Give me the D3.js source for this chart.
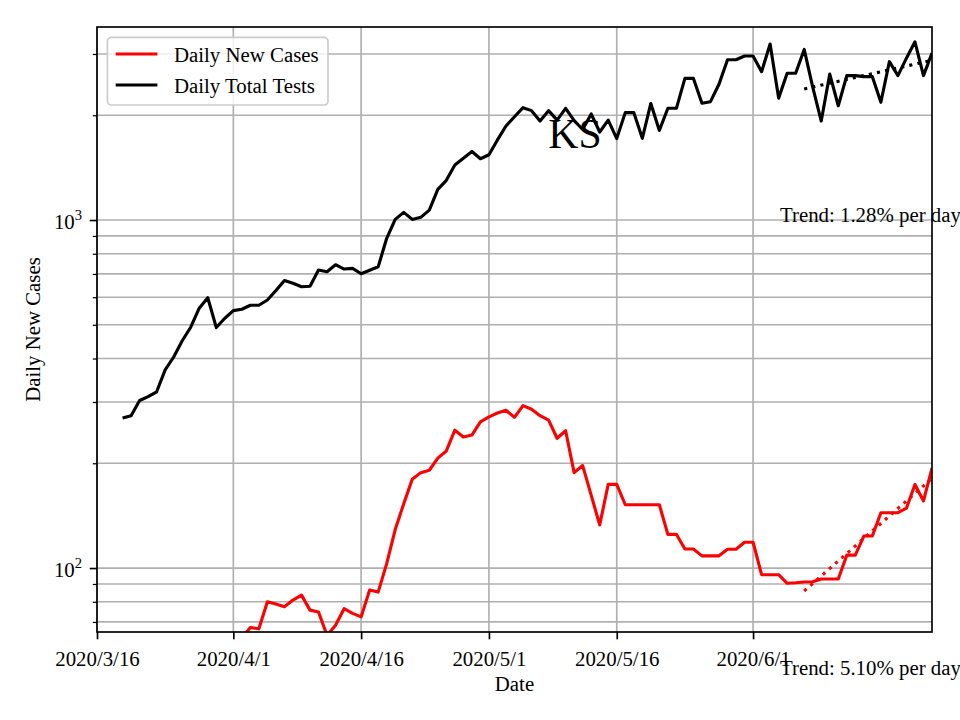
<!DOCTYPE html>
<html>
<head>
<meta charset="utf-8">
<script src="https://cdn.jsdelivr.net/npm/d3@7"></script>
<style>
  html, body { margin: 0; padding: 0; background: #fff; }
  svg { display: block; }
</style>
</head>
<body>
<svg id="chart" width="960" height="720"></svg>
<script>
// ---------------- DATA ----------------
const dates = [
  "3/19","3/20","3/21","3/22","3/23","3/24","3/25","3/26","3/27","3/28","3/29","3/30","3/31",
  "4/1","4/2","4/3","4/4","4/5","4/6","4/7","4/8","4/9","4/10","4/11","4/12","4/13","4/14","4/15",
  "4/16","4/17","4/18","4/19","4/20","4/21","4/22","4/23","4/24","4/25","4/26","4/27","4/28","4/29","4/30",
  "5/1","5/2","5/3","5/4","5/5","5/6","5/7","5/8","5/9","5/10","5/11","5/12","5/13","5/14","5/15",
  "5/16","5/17","5/18","5/19","5/20","5/21","5/22","5/23","5/24","5/25","5/26","5/27","5/28","5/29","5/30","5/31",
  "6/1","6/2","6/3","6/4","6/5","6/6","6/7","6/8","6/9","6/10","6/11","6/12","6/13","6/14","6/15",
  "6/16","6/17","6/18","6/19","6/20","6/21","6/22"
];
const dailyTotalTests = [
  270,274,303,311,321,371,404,450,492,558,598,491,522,
  549,554,569,569,589,627,670,658,643,645,718,710,744,723,726,
  701,717,734,886,1004,1052,1004,1018,1068,1225,1300,1439,1504,1574,1500,
  1540,1699,1863,1981,2103,2062,1925,2062,1937,2094,1930,1820,2017,1790,1937,
  1714,2035,2036,1717,2162,1808,2094,2094,2552,2552,2165,2188,2455,2887,2887,2959,
  2959,2668,3204,2240,2640,2640,3091,2410,1925,2625,2130,2600,2600,2582,2582,
  2179,2851,2600,2918,3252,2600,3016
];
const dailyNewCases = [
  null,null,null,null,null,null,null,null,null,null,null,null,null,
  null,63,67.5,66.9,80,78.8,77.4,80.9,83.6,75.7,74.8,64,68.5,76.4,74.1,
  72.4,86.5,85.3,103,129,153,180,188,191,207,217,249,238,241,263,
  272,279,284,271,293,286,274,266,236,248,188,197,162,133,174,
  174,152,152,152,152,152,125,125,113.4,113.4,108.4,108.4,108.4,113.2,113.2,118.6,
  118.6,95.7,95.7,95.7,90.4,90.7,91.2,91.3,93,93,93,108.9,108.9,123.6,123.6,
  144.2,144.2,144.2,148.6,173.9,155.9,193.6
];
const trendDates = ["6/7", "6/22"];
const testsTrend = [2380, 2877];
const casesTrend = [85.9, 181];
const testsTrendLabel = "Trend: 1.28% per day";
const casesTrendLabel = "Trend: 5.10% per day";
const xTickDates = ["3/16", "4/1", "4/16", "5/1", "5/16", "6/1"];
const xTickLabels = ["2020/3/16", "2020/4/1", "2020/4/16", "2020/5/1", "2020/5/16", "2020/6/1"];
const xDomain = ["3/16", "6/22"];
const yDomain = [65.5, 3586];
const yMajorTicks = [100, 1000];
const yMinorTicks = [70, 80, 90, 200, 300, 400, 500, 600, 700, 800, 900, 2000, 3000];
const seriesNames = ["Daily New Cases", "Daily Total Tests"];
const seriesColors = ["#ff0000", "#000000"];
const titleText = "KS";
const xLabel = "Date";
const yLabel = "Daily New Cases";

// ---------------- LAYOUT ----------------
const FONT = "'Liberation Serif', 'Times New Roman', serif";
const FS = 20.83;
const M = { left: 97, right: 932, top: 27, bottom: 632 };
const parse = s => d3.timeParse("%Y/%m/%d")("2020/" + s);

const svg = d3.select("#chart");
svg.append("rect").attr("width", 960).attr("height", 720).attr("fill", "#fff");

const x = d3.scaleTime().domain(xDomain.map(parse)).range([M.left, M.right]);
const y = d3.scaleLog().domain(yDomain).range([M.bottom, M.top]);

// clip
svg.append("defs").append("clipPath").attr("id", "plotclip")
  .append("rect").attr("x", M.left).attr("y", M.top)
  .attr("width", M.right - M.left).attr("height", M.bottom - M.top);

// grid
const grid = svg.append("g").attr("stroke", "#b0b0b0").attr("stroke-width", 1.67);
grid.selectAll("line.v").data(xTickDates.map(parse)).join("line")
  .attr("x1", d => x(d)).attr("x2", d => x(d)).attr("y1", M.top).attr("y2", M.bottom);
grid.selectAll("line.h").data(yMajorTicks.concat(yMinorTicks)).join("line")
  .attr("x1", M.left).attr("x2", M.right).attr("y1", d => y(d)).attr("y2", d => y(d));

// series
const plot = svg.append("g").attr("clip-path", "url(#plotclip)");
const line = d3.line()
  .defined(d => d.v != null)
  .x(d => x(d.t)).y(d => y(d.v));
const casesData = dates.map((s, i) => ({ t: parse(s), v: dailyNewCases[i] }));
const testsData = dates.map((s, i) => ({ t: parse(s), v: dailyTotalTests[i] }));

plot.append("path").datum(casesData).attr("d", line)
  .attr("fill", "none").attr("stroke", seriesColors[0]).attr("stroke-width", 3.125)
  .attr("stroke-linejoin", "round");
plot.append("path").datum(testsData).attr("d", line)
  .attr("fill", "none").attr("stroke", seriesColors[1]).attr("stroke-width", 3.125)
  .attr("stroke-linejoin", "round");

const tTests = trendDates.map((s, i) => ({ t: parse(s), v: testsTrend[i] }));
const tCases = trendDates.map((s, i) => ({ t: parse(s), v: casesTrend[i] }));
plot.append("path").datum(tCases).attr("d", line)
  .attr("fill", "none").attr("stroke", seriesColors[0]).attr("stroke-width", 3.125)
  .attr("stroke-dasharray", "3.125 5.16");
plot.append("path").datum(tTests).attr("d", line)
  .attr("fill", "none").attr("stroke", seriesColors[1]).attr("stroke-width", 3.125)
  .attr("stroke-dasharray", "3.125 5.16");

// axes
const xAxis = d3.axisBottom(x)
  .tickValues(xTickDates.map(parse))
  .tickFormat((d, i) => xTickLabels[i])
  .tickSize(7.3).tickPadding(7.3);
const gx = svg.append("g").attr("transform", `translate(0,${M.bottom})`).call(xAxis);
gx.select(".domain").remove();
gx.selectAll(".tick line").attr("stroke", "#000").attr("stroke-width", 1.67);
gx.selectAll(".tick text").attr("font-family", FONT).attr("font-size", FS)
  .attr("fill", "#000").attr("dy", null).attr("y", 34);

const yAxisMajor = d3.axisLeft(y).tickValues(yMajorTicks).tickFormat(() => "").tickSize(7.3);
const gy = svg.append("g").attr("transform", `translate(${M.left},0)`).call(yAxisMajor);
gy.select(".domain").remove();
gy.selectAll(".tick line").attr("stroke", "#000").attr("stroke-width", 1.67);
gy.selectAll(".tick text").remove();
gy.selectAll(".tick").append("text")
  .attr("x", -15).attr("y", 8).attr("text-anchor", "end")
  .attr("font-family", FONT).attr("font-size", FS).attr("fill", "#000")
  .each(function(d) {
    const t = d3.select(this);
    t.append("tspan").text("10");
    t.append("tspan").attr("font-size", FS * 0.7).attr("dy", -9)
      .text(String(Math.round(Math.log10(d))));
  });
const yAxisMinor = d3.axisLeft(y).tickValues(yMinorTicks).tickFormat(() => "").tickSize(4.2);
const gym = svg.append("g").attr("transform", `translate(${M.left},0)`).call(yAxisMinor);
gym.select(".domain").remove();
gym.selectAll(".tick line").attr("stroke", "#000").attr("stroke-width", 1.25);

// spines
svg.append("rect").attr("x", M.left).attr("y", M.top)
  .attr("width", M.right - M.left).attr("height", M.bottom - M.top)
  .attr("fill", "none").attr("stroke", "#000").attr("stroke-width", 1.67);

// axis labels
svg.append("text").attr("x", (M.left + M.right) / 2).attr("y", 691)
  .attr("text-anchor", "middle").attr("font-family", FONT).attr("font-size", FS)
  .text(xLabel);
svg.append("text")
  .attr("transform", `translate(40,${(M.top + M.bottom) / 2}) rotate(-90)`)
  .attr("text-anchor", "middle").attr("font-family", FONT).attr("font-size", FS)
  .text(yLabel);

// title-like label
svg.append("text").attr("x", 575).attr("y", 147.5).attr("text-anchor", "middle")
  .attr("font-family", FONT).attr("font-size", 41.67).text(titleText);

// trend labels
svg.append("text").attr("x", 780).attr("y", 222).attr("font-family", FONT)
  .attr("font-size", FS).text(testsTrendLabel);
svg.append("text").attr("x", 780).attr("y", 675).attr("font-family", FONT)
  .attr("font-size", FS).text(casesTrendLabel);

// legend
const lg = svg.append("g");
lg.append("rect").attr("x", 107.4).attr("y", 37.4).attr("width", 220.6).attr("height", 67.6)
  .attr("rx", 4).attr("fill", "#fff").attr("fill-opacity", 0.8)
  .attr("stroke", "#cccccc").attr("stroke-width", 1.67);
seriesNames.forEach((n, i) => {
  const yy = 54 + i * 31;
  lg.append("line").attr("x1", 115.7).attr("x2", 157.4).attr("y1", yy).attr("y2", yy)
    .attr("stroke", seriesColors[i]).attr("stroke-width", 3.125);
  lg.append("text").attr("x", 174).attr("y", yy + 7.5).attr("font-family", FONT)
    .attr("font-size", FS).text(n);
});
</script>
</body>
</html>
